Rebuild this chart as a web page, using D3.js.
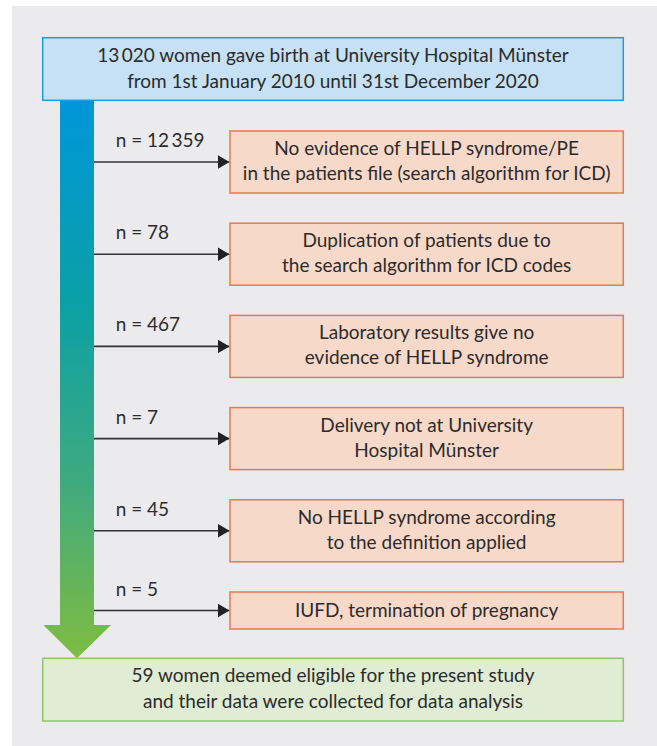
<!DOCTYPE html>
<html>
<head>
<meta charset="utf-8">
<script src="https://cdn.jsdelivr.net/npm/d3@7"></script>
<style>
  html, body { margin: 0; padding: 0; background: #ffffff; }
  svg { display: block; }
  text { font-family: Lato, "Open Sans", "Noto Sans", sans-serif; fill: #2b2b2b; }
</style>
</head>
<body>
<svg id="chart" width="657" height="746"></svg>
<script>
// ---------------- data ----------------
const totalBirths = 13020;
const startLines = ["{n} women gave birth at University Hospital Münster",
                    "from 1st January 2010 until 31st December 2020"];
const exclusionCounts = [12359, 78, 467, 7, 45, 5];
const exclusionReasons = [
  ["No evidence of HELLP syndrome/PE", "in the patients file (search algorithm for ICD)"],
  ["Duplication of patients due to", "the search algorithm for ICD codes"],
  ["Laboratory results give no", "evidence of HELLP syndrome"],
  ["Delivery not at University", "Hospital Münster"],
  ["No HELLP syndrome according", "to the definition applied"],
  ["IUFD, termination of pregnancy"]
];
const finalLines = ["{n} women deemed eligible for the present study",
                    "and their data were collected for data analysis"];

// ---------------- layout ----------------
const svg = d3.select("#chart");
const W = 657, H = 746;
const fmt = d3.formatLocale({decimal: ".", thousands: "\u2009", grouping: [3], currency: ["", ""]}).format(",d");
const eligible = totalBirths - d3.sum(exclusionCounts);

const FS = 19;
const lineH = 26;
const boxX = 230, boxR = 623.3;
const mainX0 = 42.7;
const barX0 = 60, barX1 = 94;

// y positions of exclusion boxes via scale
const yTop = d3.scaleLinear().domain([0, exclusionCounts.length - 1]).range([131, 592]);
const boxH = lines => lines * 25 + 12;

// panel background
svg.append("rect").attr("x", 12).attr("y", 6).attr("width", W - 12).attr("height", H - 6)
  .attr("fill", "#ebebee");

// gradient
const defs = svg.append("defs");
const grad = defs.append("linearGradient").attr("id", "flow")
  .attr("gradientUnits", "userSpaceOnUse")
  .attr("x1", 0).attr("y1", 100).attr("x2", 0).attr("y2", 658);
[[0, "#0096da"], [0.36, "#0aa0a6"], [0.68, "#3eaa80"], [0.9, "#6cb654"], [1, "#7dbd42"]]
  .forEach(([o, c]) => grad.append("stop").attr("offset", o).attr("stop-color", c));

// big arrow
const arrowTop = 625, arrowTip = 658.3;
const arrowPath = d3.path();
arrowPath.moveTo(barX0, 100.5);
arrowPath.lineTo(barX1, 100.5);
arrowPath.lineTo(barX1, arrowTop);
arrowPath.lineTo(111, arrowTop);
arrowPath.lineTo((barX0 + barX1) / 2, arrowTip);
arrowPath.lineTo(43.3, arrowTop);
arrowPath.lineTo(barX0, arrowTop);
arrowPath.closePath();
svg.append("path").attr("d", arrowPath.toString()).attr("fill", "url(#flow)");

// top box
const topY = 37.7, topH = 62.6;
svg.append("rect").attr("x", mainX0).attr("y", topY).attr("width", boxR - mainX0).attr("height", topH)
  .attr("fill", "#c6e1f4").attr("stroke", "#1b9ee0").attr("stroke-width", 1.5);
svg.append("g").selectAll("text").data(startLines).join("text")
  .attr("x", (mainX0 + boxR) / 2)
  .attr("y", (d, i) => topY + topH / 2 - 7.5 + i * lineH)
  .attr("text-anchor", "middle").attr("font-size", FS)
  .text(d => d.replace("{n}", fmt(totalBirths)));

// marker
defs.append("marker").attr("id", "head").attr("viewBox", "0 0 12 14")
  .attr("refX", 12).attr("refY", 7).attr("markerWidth", 12).attr("markerHeight", 14)
  .attr("markerUnits", "userSpaceOnUse").attr("orient", "auto")
  .append("path").attr("d", "M0,0L12,7L0,14Z").attr("fill", "#222");

// exclusion steps
const steps = svg.append("g").selectAll("g").data(exclusionCounts).join("g");
steps.each(function(n, i) {
  const g = d3.select(this);
  const lines = exclusionReasons[i];
  const top = yTop(i), h = boxH(lines.length), cy = top + h / 2;
  g.append("line").attr("x1", barX1).attr("x2", boxX - 0.5).attr("y1", cy).attr("y2", cy)
    .attr("stroke", "#333").attr("stroke-width", 1.6).attr("marker-end", "url(#head)");
  g.append("text").attr("x", 115.7).attr("y", cy - 15).attr("font-size", FS)
    .text("n = " + fmt(n));
  g.append("rect").attr("x", boxX).attr("y", top).attr("width", boxR - boxX).attr("height", h)
    .attr("fill", "#f7d9ca").attr("stroke", "#e8784c").attr("stroke-width", 1.5);
  const off = lines.length === 1 ? 6.5 : -7;
  g.selectAll("text.r").data(lines).join("text").attr("class", "r")
    .attr("x", (boxX + boxR) / 2).attr("y", (d, j) => cy + off + j * 25)
    .attr("text-anchor", "middle").attr("font-size", FS).text(d => d);
});

// final box
const botY = 658.3, botH = 62.7;
svg.append("rect").attr("x", mainX0).attr("y", botY).attr("width", boxR - mainX0).attr("height", botH)
  .attr("fill", "#e0edd4").attr("stroke", "#8cc66a").attr("stroke-width", 1.5);
svg.append("g").selectAll("text").data(finalLines).join("text")
  .attr("x", (mainX0 + boxR) / 2)
  .attr("y", (d, i) => botY + botH / 2 - 8 + i * lineH)
  .attr("text-anchor", "middle").attr("font-size", FS)
  .text(d => d.replace("{n}", fmt(eligible)));
</script>
</body>
</html>
